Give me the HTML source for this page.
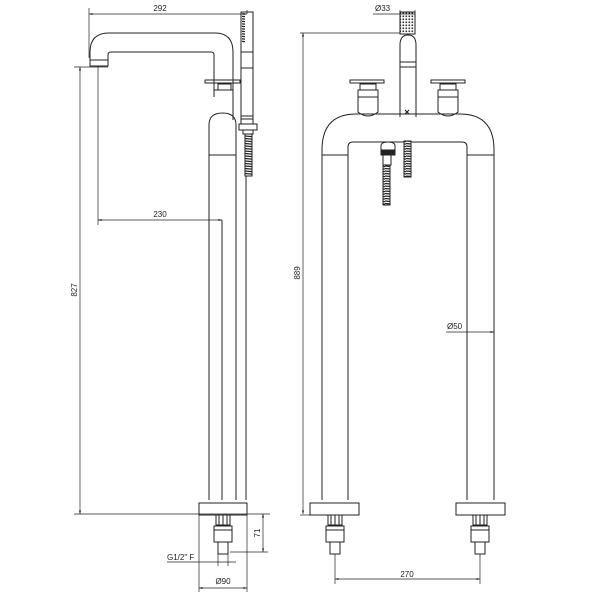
<!DOCTYPE html>
<html><head><meta charset="utf-8"><style>
html,body{margin:0;padding:0;background:#fff}
svg{display:block}
text{font-family:"Liberation Sans",sans-serif;font-size:8px;fill:#222}
</style></head><body>
<svg width="600" height="600" viewBox="0 0 600 600" xmlns="http://www.w3.org/2000/svg">
<defs>
<pattern id="hose" width="7" height="2.5" patternUnits="userSpaceOnUse">
<rect width="7" height="2.5" fill="#fff"/><line x1="0" y1="1" x2="7" y2="1.6" stroke="#222" stroke-width="1.2"/>
</pattern>
<pattern id="grid" width="3" height="3" patternUnits="userSpaceOnUse">
<rect width="3" height="3" fill="#fff"/><rect x="0.5" y="0.5" width="1.6" height="1.6" fill="#333"/>
</pattern>
<marker id="a" markerWidth="6" markerHeight="6" refX="5" refY="3" orient="auto-start-reverse"><path d="M0,1.5 L5,3 L0,4.5Z" fill="#222"/></marker>
</defs>
<g fill="none" stroke="#222" stroke-width="1">
<!-- LEFT VIEW -->
<!-- spout -->
<path d="M90,62 V52 Q90,33 109,33 H215 Q233,33 233,52 V120"/>
<path d="M108,62 V55 Q108,52 111,52 H211 Q214,52 214,55 V97"/>
<rect x="90" y="60" width="18" height="6"/>
<rect x="205" y="80" width="35" height="3"/>
<rect x="218" y="84" width="13" height="6"/>
<line x1="214" y1="90" x2="233" y2="90"/>
<path d="M209,500 V125 Q209,113 222.5,113 Q236,113 236,125 V500"/>
<line x1="209" y1="155" x2="236" y2="155"/>
<line x1="222" y1="220" x2="222" y2="500"/>
<!-- hand shower -->
<rect x="241" y="12" width="12" height="112"/>
<line x1="241" y1="52" x2="253" y2="52"/>
<line x1="241" y1="68" x2="253" y2="68"/>
<line x1="241" y1="116" x2="253" y2="116"/>
<line x1="241" y1="119" x2="253" y2="119"/>
<rect x="239" y="124" width="18" height="6"/>
<rect x="243" y="130" width="10" height="4"/>
<rect x="245" y="134" width="7" height="42" fill="url(#hose)"/>
<line x1="246" y1="176" x2="246" y2="500"/>
<rect x="242" y="13" width="3" height="30" fill="url(#hose)" stroke="none"/>
<!-- base -->
<rect x="199" y="503" width="48" height="12"/>
<rect x="216" y="515" width="14" height="10"/>
<line x1="219" y1="515" x2="219" y2="525"/><line x1="223" y1="515" x2="223" y2="525"/><line x1="227" y1="515" x2="227" y2="525"/>
<rect x="214" y="526" width="18" height="4"/>
<rect x="214" y="530" width="18" height="12"/>
<rect x="218" y="542" width="10" height="12"/>
<!-- dims left -->
<line x1="89" y1="8" x2="89" y2="58" stroke-width="0.7"/>
<line x1="89" y1="14" x2="247" y2="14" stroke-width="0.7" marker-start="url(#a)" marker-end="url(#a)"/>
<line x1="247" y1="10" x2="247" y2="14" stroke-width="0.7"/>
<line x1="74" y1="67" x2="108" y2="67" stroke-width="0.7"/>
<line x1="80" y1="67" x2="80" y2="514" stroke-width="0.7" marker-start="url(#a)" marker-end="url(#a)"/>
<line x1="74" y1="514" x2="270" y2="514" stroke-width="0.7"/>
<line x1="98" y1="66" x2="98" y2="225" stroke-width="0.7"/>
<line x1="98" y1="220" x2="222" y2="220" stroke-width="0.7" marker-start="url(#a)" marker-end="url(#a)"/>
<line x1="230" y1="552" x2="268" y2="552" stroke-width="0.7"/>
<line x1="263" y1="514" x2="263" y2="552" stroke-width="0.7" marker-start="url(#a)" marker-end="url(#a)"/>
<line x1="167" y1="562" x2="236" y2="562" stroke-width="0.7"/>
<line x1="218" y1="554" x2="218" y2="566" stroke-width="0.7"/>
<line x1="228" y1="554" x2="228" y2="566" stroke-width="0.7"/>
<line x1="199" y1="515" x2="199" y2="592" stroke-width="0.7"/>
<line x1="247" y1="515" x2="247" y2="592" stroke-width="0.7"/>
<line x1="199" y1="588" x2="247" y2="588" stroke-width="0.7" marker-start="url(#a)" marker-end="url(#a)"/>

<!-- RIGHT VIEW -->
<rect x="400" y="12" width="15" height="22" fill="url(#grid)"/>
<path d="M400,117 V45 Q400,35 408,35 Q416,35 416,45 V117"/>
<line x1="400" y1="62" x2="416" y2="62"/><line x1="400" y1="67" x2="416" y2="67"/>
<!-- handles -->
<rect x="350" y="80" width="34" height="3"/>
<rect x="360" y="84" width="16" height="6"/>
<path d="M358,90 H378 V112 Q368,120 358,112Z"/>
<line x1="358" y1="97" x2="378" y2="97"/>
<rect x="431" y="80" width="34" height="3"/>
<rect x="440" y="84" width="16" height="6"/>
<path d="M438,90 H458 V112 Q448,120 438,112Z"/>
<line x1="438" y1="97" x2="458" y2="97"/>
<!-- bridge -->
<path d="M322,500 V150 Q322,114 356,114 H460 Q494,114 494,150 V500"/>
<path d="M348,500 V147 Q348,142 353,142 H462 Q467,142 467,147 V500"/>
<line x1="322" y1="155" x2="348" y2="155"/>
<line x1="467" y1="155" x2="494" y2="155"/>
<path d="M405,110 l4,4 M409,110 l-4,4" stroke-width="1.2"/>
<!-- hoses -->
<path d="M381,150 V146 Q381,142 388,142 Q395,142 395,146 V150Z"/>
<rect x="381" y="150" width="14" height="5" fill="#222"/>
<rect x="383" y="155" width="8" height="10"/>
<rect x="383" y="165" width="7" height="40" fill="url(#hose)"/>
<rect x="404" y="141" width="7" height="36" fill="url(#hose)"/>
<!-- bases -->
<rect x="310" y="503" width="49" height="12"/>
<rect x="456" y="503" width="49" height="12"/>
<g id="fit">
<rect x="328" y="515" width="14" height="10"/>
<line x1="331" y1="515" x2="331" y2="525"/><line x1="335" y1="515" x2="335" y2="525"/><line x1="339" y1="515" x2="339" y2="525"/>
<rect x="326" y="526" width="18" height="4"/>
<rect x="326" y="530" width="18" height="12"/>
<rect x="330" y="542" width="10" height="12"/>
</g>
<use href="#fit" x="145"/>
<!-- dims right -->
<line x1="300" y1="33" x2="400" y2="33" stroke-width="0.7"/>
<line x1="303" y1="33" x2="303" y2="514" stroke-width="0.7" marker-start="url(#a)" marker-end="url(#a)"/>
<line x1="300" y1="515" x2="310" y2="515" stroke-width="0.7"/>
<line x1="373" y1="14" x2="415" y2="14" stroke-width="0.7"/>
<line x1="400" y1="10" x2="400" y2="14" stroke-width="0.7"/>
<line x1="415" y1="10" x2="415" y2="14" stroke-width="0.7"/>
<line x1="446" y1="332" x2="494" y2="332" stroke-width="0.7" marker-end="url(#a)"/>
<line x1="335" y1="554" x2="335" y2="584" stroke-width="0.7"/>
<line x1="480" y1="554" x2="480" y2="584" stroke-width="0.7"/>
<line x1="335" y1="579" x2="480" y2="579" stroke-width="0.7" marker-start="url(#a)" marker-end="url(#a)"/>
</g>
<text x="160" y="11" text-anchor="middle">292</text>
<text x="160" y="217" text-anchor="middle">230</text>
<text transform="translate(77,290) rotate(-90)" text-anchor="middle">827</text>
<text transform="translate(260,533) rotate(-90)" text-anchor="middle">71</text>
<text x="167" y="560">G1/2" F</text>
<text x="223" y="584" text-anchor="middle">Ø90</text>
<text x="375" y="11">Ø33</text>
<text transform="translate(300,273) rotate(-90)" text-anchor="middle">889</text>
<text x="447" y="329">Ø50</text>
<text x="407" y="577" text-anchor="middle">270</text>
</svg>
</body></html>
